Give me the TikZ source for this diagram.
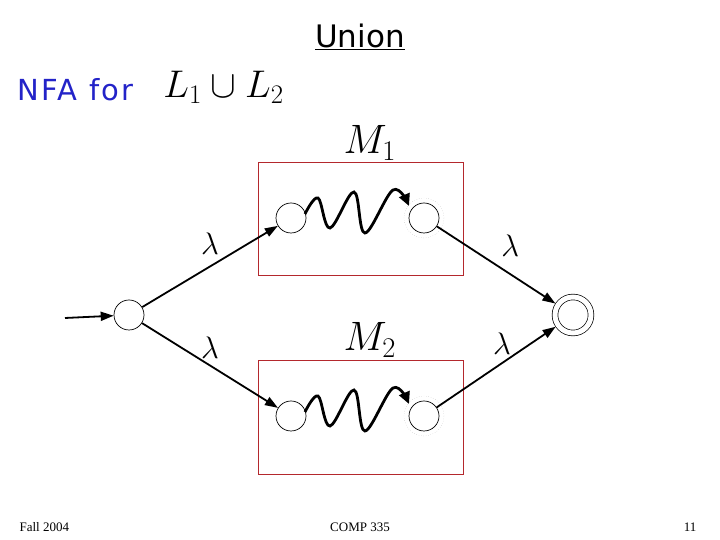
\documentclass[tikz,border=0pt]{standalone}
\usepackage{fontspec}
\setmainfont{Liberation Serif}
\newfontfamily\slidefont{DejaVu Sans}
\newfontfamily\widefont[LetterSpace=8]{DejaVu Sans}
\usetikzlibrary{arrows.meta}
\definecolor{boxred}{RGB}{180,40,45}
\definecolor{nfablue}{RGB}{35,35,200}
\begin{document}
\begin{tikzpicture}[x=1pt,y=1pt]
\tikzstyle{state} = [circle, draw, minimum size=30pt, inner sep=0pt, line width=0.7pt] % state node style
\tikzstyle{final} = [circle, draw, minimum size=36pt, inner sep=0pt, double, double distance=5pt, line width=0.7pt, outer sep=3pt] % accepting state
\tikzstyle{trans} = [-{Triangle[length=13pt,width=9pt]}, line width=1.8pt] % transition arrow
\tikzstyle{squiggle} = [-{Triangle[length=12pt,width=11pt]}, line width=2.8pt] % path inside a machine
\tikzstyle{bigmath} = [font=\fontsize{24}{24}\selectfont, transform shape] % large formula
\tikzstyle{lam} = [font=\fontsize{24}{24}\selectfont, scale=1.25] % label of a transition
\tikzstyle{machine} = [draw=boxred, line width=0.9pt] % frame of a machine
\useasboundingbox (0,0) rectangle (720,540);
% headings
\node[font=\slidefont\fontsize{31}{31}\selectfont] (title) at (360,503) {\underline{Union}};
\node[font=\widefont\fontsize{29}{29}\selectfont, text=nfablue, anchor=west] (nfa) at (14,450) {NFA for};
\node[bigmath, scale=1.55, anchor=west] (lang) at (158,453) {$L_1\cup L_2$};
% the two machines
\draw[machine] (258,265) rectangle (463,378);
\draw[machine] (258,66) rectangle (463,180);
\node[bigmath, scale=1.65] (m1) at (370,397) {$M_1$};
\node[bigmath, scale=1.65] (m2) at (370,200) {$M_2$};
% states
\node[state] (start) at (129,225) {};
\node[state] (in1) at (291,322) {};
\node[state] (out1) at (424,322) {};
\node[state] (in2) at (291,124) {};
\node[state] (out2) at (424,124) {};
\node[final] (acc) at (573,225) {};
\draw[dotted, gray!60] (out1) circle (20);
\draw[dotted, gray!60] (out2) circle (20);
\coordinate (pre) at (65,222);
% squiggles
\foreach \yy in {322,124}
	\draw[squiggle] plot[smooth, tension=0.6] coordinates {(305,{\yy+4}) (318,{\yy+20}) (330,{\yy-10}) (354,{\yy+26}) (365,{\yy-15}) (393,{\yy+28}) (409,{\yy+12})};
% transitions
\draw[trans] (pre) -- (start);
\draw[trans] (start) -- node[lam, pos=0.5, above=5pt] {$\lambda$} (in1);
\draw[trans] (start) -- node[lam, pos=0.5, above=1pt] {$\lambda$} (in2);
\draw[trans] (out1) -- node[lam, pos=0.62, above=10pt] {$\lambda$} (acc);
\draw[trans] (out2) -- node[lam, pos=0.55, above=3pt] {$\lambda$} (acc);
% footer
\node[font=\fontsize{13}{13}\selectfont, anchor=west] (fall) at (16,13) {Fall 2004};
\node[font=\fontsize{13}{13}\selectfont] (course) at (360,13) {COMP 335};
\node[font=\fontsize{13}{13}\selectfont, anchor=east] (page) at (700,13) {11};
\end{tikzpicture}
\end{document}
